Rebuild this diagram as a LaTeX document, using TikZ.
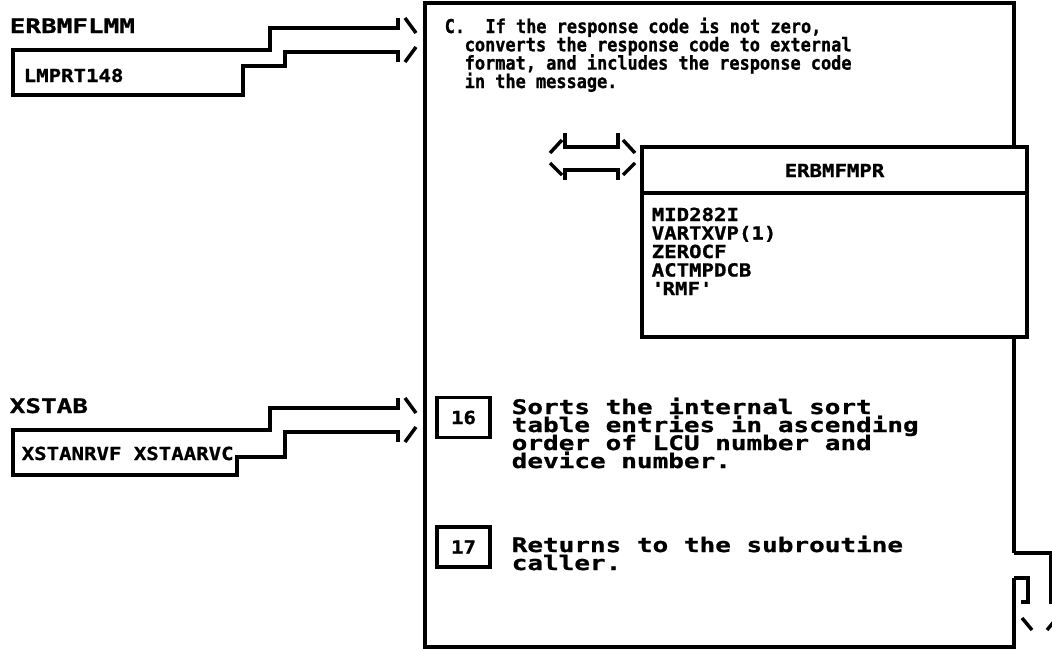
\documentclass[tikz,border=0pt]{standalone}
\usepackage{fontspec}
\setmainfont{DejaVu Sans Mono}
\newfontfamily\ctxtfont[FakeStretch=0.89,FakeBold=1]{DejaVu Sans Mono}
\newfontfamily\midfont[FakeStretch=1.15,FakeBold=1]{DejaVu Sans Mono}
\newfontfamily\widefont[FakeStretch=1.30,FakeBold=1]{DejaVu Sans Mono}

\tikzset{
  txt/.style={inner sep=0pt,anchor=base west,font=\ctxtfont\fontsize{14.25}{15}\selectfont\bfseries},
  mid/.style={inner sep=0pt,anchor=base west,font=\midfont\fontsize{13.5}{15}\selectfont\bfseries},
  wide/.style={inner sep=0pt,anchor=base west,font=\widefont\fontsize{15}{16}\selectfont\bfseries},
  numbox/.style={draw,mid,anchor=center,minimum width=39.75pt,minimum height=30pt}
}

\begin{document}
\begin{tikzpicture}[x=0.75pt,y=-0.75pt,line width=2.6pt]

\useasboundingbox (0,0) rectangle (1052,650);
\clip (0,0) rectangle (1052,650);

% positions
\def\lx{1014}
\def\sx{510}
\def\dl{18}

% main frame, open where the exit arrow leaves
\draw (\lx,553) -- (\lx,3) -- (425,3) -- (425,647) -- (\lx,647) -- (\lx,578);

% input areas on the left
\foreach \dy/\xs/\ys in {0/243/66,380/237/77}{
  \draw (398,\dy+18) -- (398,\dy+28) -- (270,\dy+28) -- (270,\dy+50) -- (13,\dy+50)
    -- (13,\dy+95) -- (\xs,\dy+95) -- (\xs,\dy+\ys) -- (285,\dy+\ys) -- (285,\dy+52)
    -- (398,\dy+52) -- (398,\dy+62);
  \draw (405,\dy+18) -- (416,\dy+33) (405,\dy+62) -- (416,\dy+47);
}

\node[wide] (erbmflmm) at (8,33) {ERBMFLMM};
\node[mid]  (lmprt)    at (22,82) {LMPRT148};
\node[wide] (xstab)    at (8,413) {XSTAB};
\node[mid]  (xstan)    at (20,460) {XSTANRVF XSTAARVC};

% step C
\node[txt] (c1) at (443,33) {C.\ \ If the response code is not zero,};
\node[txt] (c2) at (463,51.3) {converts the response code to external};
\node[txt] (c3) at (463,69.6) {format, and includes the response code};
\node[txt] (c4) at (463,88) {in the message.};

% two-way arrow to the module
\draw (565,133) -- (565,147) -- (618,147) -- (618,133);
\draw (565,180) -- (565,170) -- (618,170) -- (618,180);
\draw (550,153) -- (562,140) (550,163) -- (562,175)
      (623,140) -- (635,153) (623,175) -- (635,163);

% called module
\draw[fill=white] (642,147) rectangle (1027,337);
\draw (642,193) -- (1027,193);
\node[mid,anchor=base] (mpr) at (834.5,177) {ERBMFMPR};
\foreach \t [count=\i from 0] in {MID282I,VARTXVP(1),ZEROCF,ACTMPDCB,\textquotesingle RMF\textquotesingle}
  \node[mid] (arg\i) at (650,221+18.5*\i) {\t};

% steps 16 and 17
\node[numbox] (n16) at (463.5,417.5) {16};
\node[numbox] (n17) at (463.5,547) {17};

\foreach \t [count=\i from 0] in {Sorts the internal sort,table entries in ascending,
    order of LCU number and,device number.}
  \node[wide] (s16\i) at (\sx,414+\dl*\i) {\t};
\node[wide] (s170) at (\sx,552) {Returns to the subroutine};
\node[wide] (s171) at (\sx,570) {caller.};

% exit arrow, bottom right
\draw (\lx,553) -- (1050.5,553) -- (1050.5,602) -- (1060,602);
\draw (\lx,578) -- (1028,578) -- (1028,602) -- (1021,602);
\draw (1022,618) -- (1032,630) (1057,618) -- (1047,630);

\end{tikzpicture}
\end{document}
